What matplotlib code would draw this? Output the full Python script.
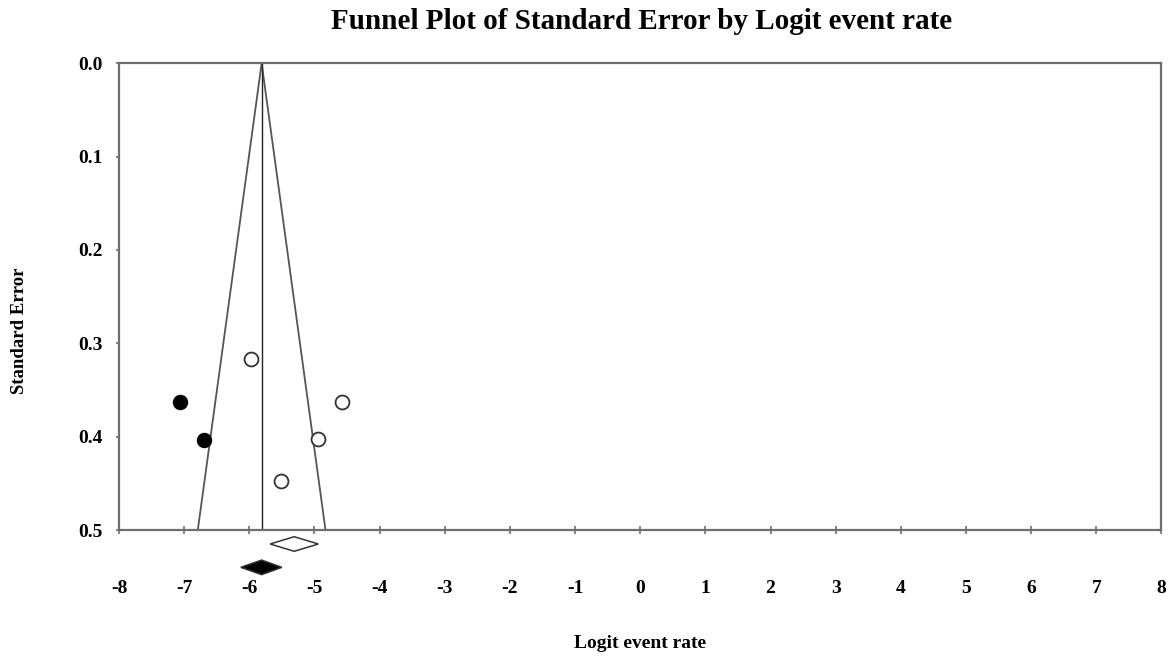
import matplotlib
matplotlib.use("Agg")
import matplotlib.pyplot as plt
import numpy as np

# observed studies (open) and trim-and-fill imputed studies (filled)
obs_logit = [-5.98, -4.58, -4.95, -5.51]
obs_se = [0.317, 0.363, 0.403, 0.447]
imp_logit = [-7.06, -6.70]
imp_se = [0.363, 0.404]

# pooled estimates
funnel_center = -5.81
obs_est, obs_lo, obs_hi = -5.31, -5.68, -4.94
adj_est, adj_lo, adj_hi = -5.81, -6.13, -5.50

xticks = list(range(-8, 9))
yticks = [0.0, 0.1, 0.2, 0.3, 0.4, 0.5]
se_max = 0.5

plt.rcParams['font.family'] = 'Liberation Serif'
plt.rcParams['font.weight'] = 'bold'

fig = plt.figure(figsize=(11.72, 6.57), dpi=100)
ax = fig.add_axes([0.1015, 0.1933, 0.8895, 0.7104])

edge = '#6e6e6e'

# funnel limits
se_line = np.array([0.0, se_max])
ax.plot(funnel_center - 1.96 * se_line, se_line, color='#555555', lw=1.3)
ax.plot(funnel_center + 1.96 * se_line, se_line, color='#555555', lw=1.3)
ax.plot([funnel_center, funnel_center], [0, se_max], color='#222222', lw=1.0)

ax.plot(obs_logit, obs_se, 'o', ms=10, mfc='white', mec='#333333', mew=1.3)
ax.plot(imp_logit, imp_se, 'o', ms=10, mfc='black', mec='black', mew=1.1)

# summary diamonds below the axis
def diamond(lo, est, hi, y, h, face):
    xs = [lo, est, hi, est, lo]
    ys = [y, y - h, y, y + h, y]
    ax.fill(xs, ys, facecolor=face, edgecolor='#333333', lw=1.1, clip_on=False)

diamond(obs_lo, obs_est, obs_hi, 0.515, 0.0078, 'white')
diamond(adj_lo, adj_est, adj_hi, 0.540, 0.0078, 'black')

ax.set_xlim(-8, 8)
ax.set_ylim(se_max, 0)
ax.set_xticks(xticks)
ax.set_yticks(yticks)
ax.set_xticklabels([str(t) for t in xticks])
ax.set_yticklabels(['%.1f' % t for t in yticks])

for s in ax.spines.values():
    s.set_color(edge)
    s.set_linewidth(1.6)

ax.tick_params(axis='x', direction='inout', length=6, width=1.2, color=edge,
               pad=33, labelsize=14)
ax.tick_params(axis='y', direction='out', length=2.5, width=1.2, color=edge,
               pad=9, labelsize=14)

fig.text(0.547, 0.968, 'Funnel Plot of Standard Error by Logit event rate',
         ha='center', va='center', fontsize=21, fontweight='bold')
fig.text(0.546, 0.008, 'Logit event rate', ha='center', va='bottom',
         fontsize=14, fontweight='bold')
fig.text(0.017, 0.497, 'Standard Error', ha='center', va='center',
         rotation=90, fontsize=13.5, fontweight='bold')

fig.savefig('out.png', dpi=100)
